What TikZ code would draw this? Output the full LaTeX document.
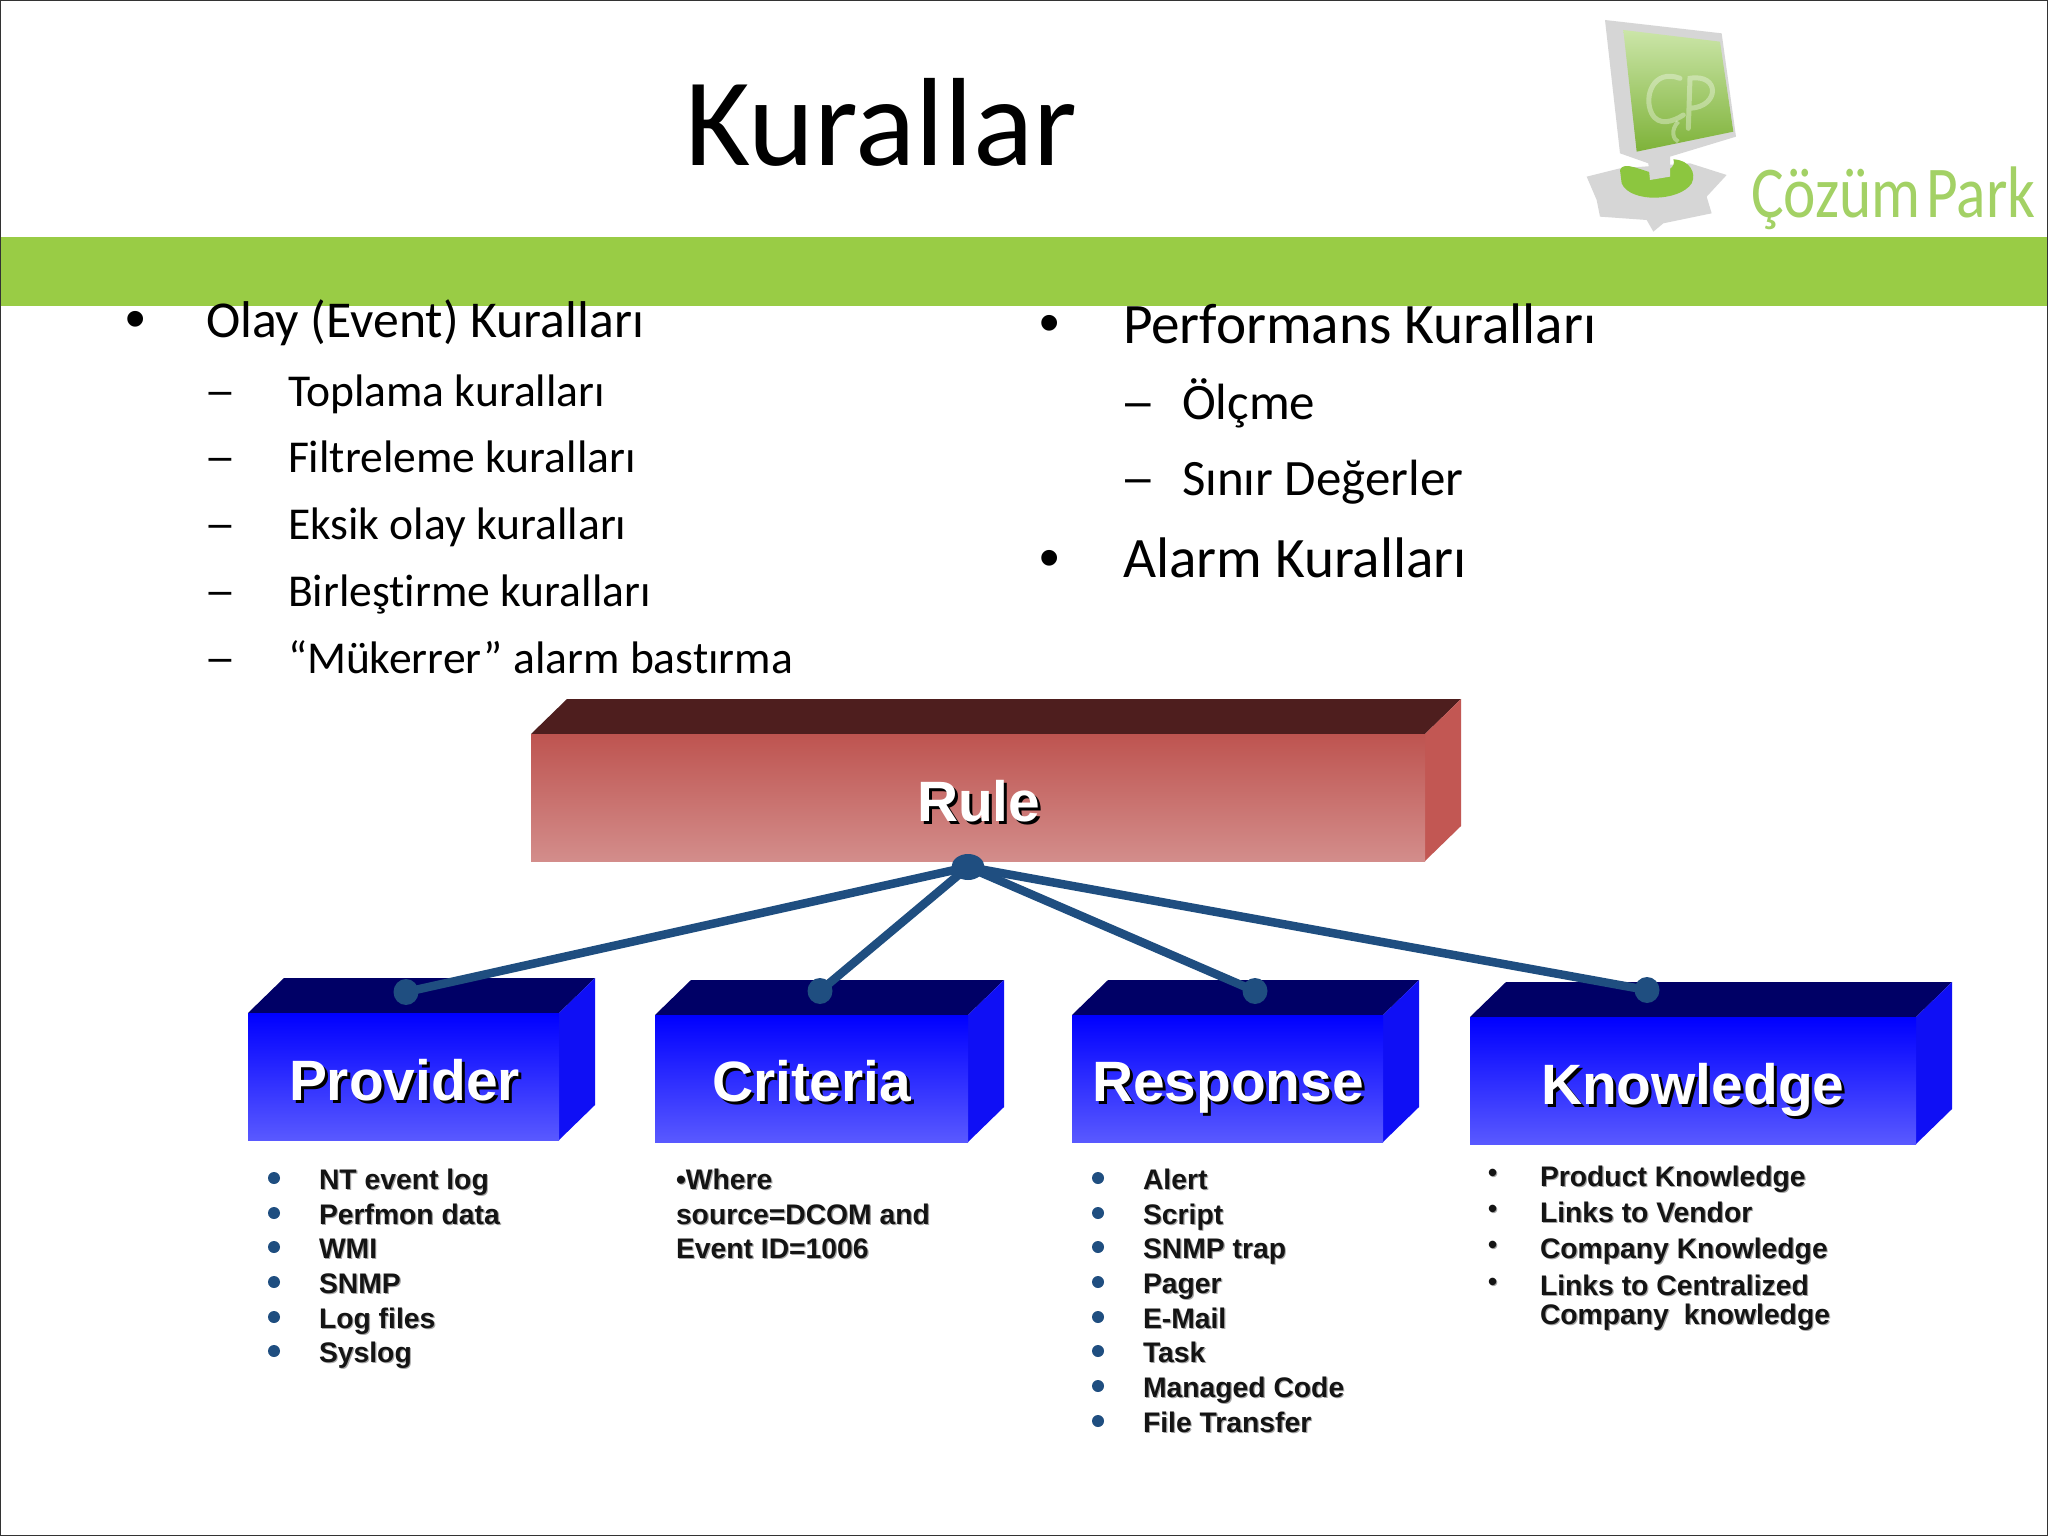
\documentclass[tikz,border=0pt]{standalone}
\usepackage{graphicx}
\usepackage{fontspec}
\setmainfont{Carlito}[Ligatures=NoCommon]
\newfontfamily\arialb[Scale=1]{Liberation Sans Bold}
\newfontfamily\arialr{Liberation Sans}
\usetikzlibrary{shapes.geometric}
\definecolor{barGreen}{HTML}{99CC45}
\definecolor{logoGreen}{HTML}{8CC63F}
\definecolor{linkBlue}{HTML}{1F4E80}
\newcommand\sz[1]{\fontsize{#1}{#1}\selectfont}
\newcommand\shad[3]{\leavevmode\rlap{\kern#1pt\raisebox{-#1pt}{\color{#2}#3}}{\color{white}#3}}
\newcommand\dshad[1]{\leavevmode\rlap{\kern1.2pt\raisebox{-1.2pt}{\color{black!35}#1}}{\color{black!92}#1}}
\newcommand\longdash{\scalebox{1.4}[1]{–}}
\tikzset{
  txt/.style={anchor=base west,inner sep=0pt,outer sep=0pt,text=black},
  big/.style={txt,font=\arialb\sz{56.9}},
  small/.style={txt,font=\arialb\sz{28.3}},
  dot/.style={circle,fill=linkBlue,inner sep=0pt,minimum size=12pt},
  hubdot/.style={ellipse,fill=linkBlue,inner sep=0pt,minimum width=33pt,minimum height=26pt},
  enddot/.style={ellipse,fill=linkBlue,inner sep=0pt,minimum width=25pt,minimum height=26pt},
  link/.style={draw=linkBlue,line width=8.5pt},
  blueface/.style={top color=blue,bottom color=blue!65!white,draw=none,inner sep=0pt},
  redface/.style={top color=RuleTop,bottom color=RuleBot,draw=none,inner sep=0pt},
  listbullet/.style={txt,font=\arialr\sz{58}},
}
\definecolor{RuleTop}{HTML}{BE5450}
\definecolor{RuleBot}{HTML}{D38D8B}
\definecolor{RuleSide}{HTML}{C25753}
\definecolor{RuleLid}{HTML}{4E1E1E}
\definecolor{BlueLid}{HTML}{000066}
\definecolor{BlueSide}{HTML}{0F0FF5}
% #1 name, #2 x0, #3 y0, #4 x1, #5 y1, #6 lid, #7 side, #8 face style
\newcommand\boxthree[8]{%
  \fill[#6] (#2,#3) -- (#2+36,#3-35) -- (#4+36,#3-35) -- (#4,#3) -- cycle;
  \fill[#7] (#4,#3) -- (#4+36,#3-35) -- (#4+36,#5-35) -- (#4,#5) -- cycle;
  \node[#8,minimum width={(#4-#2)*1pt},minimum height={(#5-#3)*1pt},anchor=north west] (#1) at (#2,#3) {};
}
\begin{document}
\begin{tikzpicture}[x=1pt,y=-1pt]
\useasboundingbox (0,0) rectangle (2048,1536);
\fill[white] (0,0) rectangle (2048,1536);
% green bar
\fill[barGreen] (0,237) rectangle (2048,306);
% logo
\begin{scope}[shift={(1530,0)},x=0.3333pt,y=-0.3333pt]
  \fill[black!16] (170,530) -- (270,505) -- (480,490) -- (590,525) -- (530,590) -- (545,640) -- (400,670) -- (370,695) -- (350,660) -- (210,650) -- (200,600) -- cycle;
  \fill[logoGreen] (270,510) .. controls (280,480) and (340,515) .. (375,520) .. controls (410,520) and (440,500) .. (430,478) .. controls (480,480) and (500,520) .. (485,550) .. controls (450,605) and (300,610) .. (275,550) -- cycle;
  \fill[black!16] (225,60) -- (575,100) -- (618,410) -- (420,470) -- (420,530) -- (360,540) -- (355,490) -- (270,460) -- cycle;
  \shade[top color=logoGreen!45!white,bottom color=logoGreen!90!black,draw=none] (280,90) -- (570,125) -- (610,395) -- (320,455) -- cycle;
  \draw[white,opacity=.35,line width=5pt,line cap=round] (450,235) .. controls (370,205) and (340,290) .. (365,340) .. controls (385,380) and (430,365) .. (460,345) (475,385) -- (480,235) .. controls (570,220) and (570,320) .. (480,325);
  \draw[white,opacity=.35,line width=4pt] (445,365) .. controls (420,390) and (430,420) .. (445,425);
\end{scope}
\node[txt,font=\sz{73},text=logoGreen!80!white] (logotext) at (1751,217) {\scalebox{.84}[1]{Çözüm\hspace{7pt}Park}};
% title
\node[txt,font=\sz{125.5}] (title) at (685,165) {Kurallar};
% left list
\node[listbullet] (b1) at (125,338) {•};
\node[txt,font=\sz{51.7}] (l1) at (206,337) {Olay (Event) Kuralları};
\foreach \nm/\yy/\tx in {a/406/Toplama kuralları,b/472.5/Filtreleme kuralları,c/539/Eksik olay kuralları,d/606/Birleştirme kuralları,e/673/“Mükerrer” alarm bastırma}{
  \node[txt,font=\sz{45.6}] (ld\nm) at (204,\yy) {\longdash};
  \node[txt,font=\sz{45.6}] (lt\nm) at (288,\yy) {\tx};
}
% right list
\node[listbullet] (r1d) at (1039,342) {•};
\node[txt,font=\sz{57.2}] (r1) at (1123,343) {Performans Kuralları};
\node[txt,font=\sz{51}] (r2d) at (1120,419) {\longdash};
\node[txt,font=\sz{51}] (r2) at (1182,419) {Ölçme};
\node[txt,font=\sz{51}] (r3d) at (1120,495) {\longdash};
\node[txt,font=\sz{51}] (r3) at (1182,495) {Sınır Değerler};
\node[listbullet] (r4d) at (1039,577) {•};
\node[txt,font=\sz{57.2}] (r4) at (1123,577) {Alarm Kuralları};
% boxes
\boxthree{rulebox}{531}{734}{1425}{861}{RuleLid}{RuleSide}{redface}
\boxthree{provbox}{248}{1013}{559}{1140}{BlueLid}{BlueSide}{blueface}
\boxthree{critbox}{655}{1015}{968}{1142}{BlueLid}{BlueSide}{blueface}
\boxthree{respbox}{1072}{1015}{1383}{1142}{BlueLid}{BlueSide}{blueface}
\boxthree{knowbox}{1470}{1017}{1916}{1144}{BlueLid}{BlueSide}{blueface}
\node[big] (ruletxt) at (917,821) {\shad{3}{black}{Rule}};
\node[big] (provtxt) at (289,1100) {\shad{3}{black}{Provider}};
\node[big] (crittxt) at (712,1101) {\shad{3}{black}{Criteria}};
\node[big] (resptxt) at (1092,1101) {\shad{3}{black}{Response}};
\node[big] (knowtxt) at (1541,1104) {\shad{3}{black}{Knowledge}};
% connectors
\node[hubdot] (hub) at (968,867) {};
\node[enddot] (e1) at (406,992) {};
\node[enddot] (e2) at (820,991) {};
\node[enddot] (e3) at (1255,991) {};
\node[enddot] (e4) at (1647,990) {};
\draw[link] (hub.center) -- (e1.center);
\draw[link] (hub.center) -- (e2.center);
\draw[link] (hub.center) -- (e3.center);
\draw[link] (hub.center) -- (e4.center);
% provider list
\foreach \nm/\yy/\tx in {a/1189/NT event log,b/1224/Perfmon data,c/1258/WMI,d/1293/SNMP,e/1328/Log files,f/1362/Syslog}{
  \node[dot] (pd\nm) at (274,\yy-11) {};
  \node[small] (pt\nm) at (319,\yy) {\dshad{\tx}};
}
% criteria list
\node[small] (c1) at (676,1189) {\dshad{•Where}};
\node[small] (c2) at (676,1224) {\dshad{source=DCOM and}};
\node[small] (c3) at (676,1258) {\dshad{Event ID=1006}};
% response list
\foreach \nm/\yy/\tx in {a/1189/Alert,b/1224/Script,c/1258/SNMP trap,d/1293/Pager,e/1328/E-Mail,f/1362/Task,g/1397/Managed Code,h/1432/File Transfer}{
  \node[dot] (rd\nm) at (1098,\yy-11) {};
  \node[small] (rt\nm) at (1143,\yy) {\dshad{\tx}};
}
% knowledge list
\foreach \nm/\yy/\tx in {a/1186/Product Knowledge,b/1222/Links to Vendor,c/1258/Company Knowledge,d/1295/Links to Centralized}{
  \node[txt,font=\arialb\sz{26}] (kd\nm) at (1488,\yy-5) {\dshad{•}};
  \node[small] (kt\nm) at (1540,\yy) {\dshad{\tx}};
}
\node[small] (kte) at (1540,1324) {\dshad{Company\hspace{7pt} knowledge}};
% page frame
\draw[black!80,line width=2pt] (0,0) rectangle (2048,1536);
\end{tikzpicture}
\end{document}
